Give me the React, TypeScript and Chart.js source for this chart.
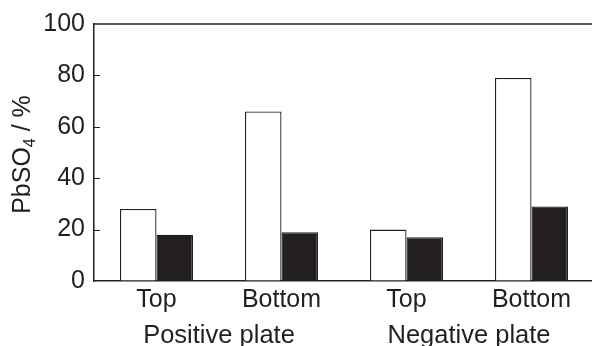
import React, { useEffect, useRef } from "react";
import { Chart, registerables } from "chart.js";

Chart.register(...registerables);

const categories = ["Top", "Bottom", "Top", "Bottom"];
const groups = ["Positive plate", "Negative plate"];
const openSeries = [28, 66, 20, 79];
const filledSeries = [18, 19, 17, 29];
const yTicks = [0, 20, 40, 60, 80, 100];

const INK = "#231f20";
const FONT = "'Liberation Sans', Arial, Helvetica, sans-serif";

// Frame top line, inward y ticks, group captions and rotated axis title with subscript
const decorations = {
  id: "decorations",
  afterDraw(chart: any) {
    const { ctx, chartArea } = chart;
    const x = chart.scales.x;
    const y = chart.scales.y;
    ctx.save();
    ctx.strokeStyle = INK;
    ctx.lineWidth = 1.5;
    ctx.beginPath();
    ctx.moveTo(chartArea.left, chartArea.top);
    ctx.lineTo(chartArea.right, chartArea.top);
    ctx.stroke();

    ctx.lineWidth = 1;
    for (const v of yTicks) {
      if (v === 0 || v === 100) continue;
      const py = Math.round(y.getPixelForValue(v)) + 0.5;
      ctx.beginPath();
      ctx.moveTo(chartArea.left, py);
      ctx.lineTo(chartArea.left + 6, py);
      ctx.stroke();
    }

    ctx.fillStyle = INK;
    ctx.font = `25.5px ${FONT}`;
    ctx.textAlign = "center";
    ctx.textBaseline = "alphabetic";
    groups.forEach((g, i) => {
      const cx = (x.getPixelForValue(i * 2) + x.getPixelForValue(i * 2 + 1)) / 2;
      ctx.fillText(g, cx, 343);
    });

    // "PbSO4 / %" with a lowered small 4
    const main = `25px ${FONT}`;
    const sub = `16px ${FONT}`;
    ctx.font = main;
    const w1 = ctx.measureText("PbSO").width;
    const w3 = ctx.measureText(" / %").width;
    ctx.font = sub;
    const w2 = ctx.measureText("4").width;
    const total = w1 + w2 + w3;
    const cy = (chartArea.top + chartArea.bottom) / 2 + 2;
    ctx.translate(30, cy);
    ctx.rotate(-Math.PI / 2);
    ctx.textAlign = "left";
    let tx = -total / 2;
    ctx.font = main;
    ctx.fillText("PbSO", tx, 0);
    tx += w1;
    ctx.font = sub;
    ctx.fillText("4", tx, 5);
    tx += w2;
    ctx.font = main;
    ctx.fillText(" / %", tx, 0);
    ctx.restore();
  },
};

export default function App() {
  const ref = useRef<HTMLCanvasElement>(null);

  useEffect(() => {
    const chart = new Chart(ref.current!, {
      type: "bar",
      data: {
        labels: categories,
        datasets: [
          {
            data: openSeries,
            backgroundColor: "#ffffff",
            borderColor: INK,
            borderWidth: 1.3,
            categoryPercentage: 0.584,
            barPercentage: 1,
          },
          {
            data: filledSeries,
            backgroundColor: INK,
            borderColor: INK,
            borderWidth: 1.3,
            categoryPercentage: 0.584,
            barPercentage: 1,
          },
        ],
      },
      options: {
        animation: false,
        responsive: false,
        devicePixelRatio: 1,
        layout: { padding: { top: 24, right: 6, bottom: 0, left: 0 } },
        plugins: { legend: { display: false }, tooltip: { enabled: false } },
        scales: {
          x: {
            afterFit: (s: any) => {
              s.height = 65;
            },
            grid: { display: true, drawOnChartArea: false, drawTicks: false },
            border: { display: true, color: INK, width: 1.5 },
            ticks: {
              color: INK,
              font: { family: FONT, size: 25 },
              padding: 4,
              maxRotation: 0,
            },
          },
          y: {
            min: 0,
            max: 100,
            afterFit: (s: any) => {
              s.width = 94;
            },
            afterBuildTicks: (s: any) => {
              s.ticks = yTicks.map((v) => ({ value: v }));
            },
            grid: { display: true, drawOnChartArea: false, drawTicks: false },
            border: { display: true, color: INK, width: 1.5 },
            ticks: {
              color: INK,
              font: { family: FONT, size: 25 },
              padding: 9,
            },
          },
        },
      },
      plugins: [decorations],
    });
    return () => chart.destroy();
  }, []);

  return (
    <div
      style={{
        position: "fixed",
        left: 0,
        top: 0,
        width: 592,
        height: 346,
        overflow: "hidden",
        background: "#ffffff",
      }}
    >
      <canvas ref={ref} width={600} height={346} style={{ width: 600, height: 346 }} />
    </div>
  );
}
